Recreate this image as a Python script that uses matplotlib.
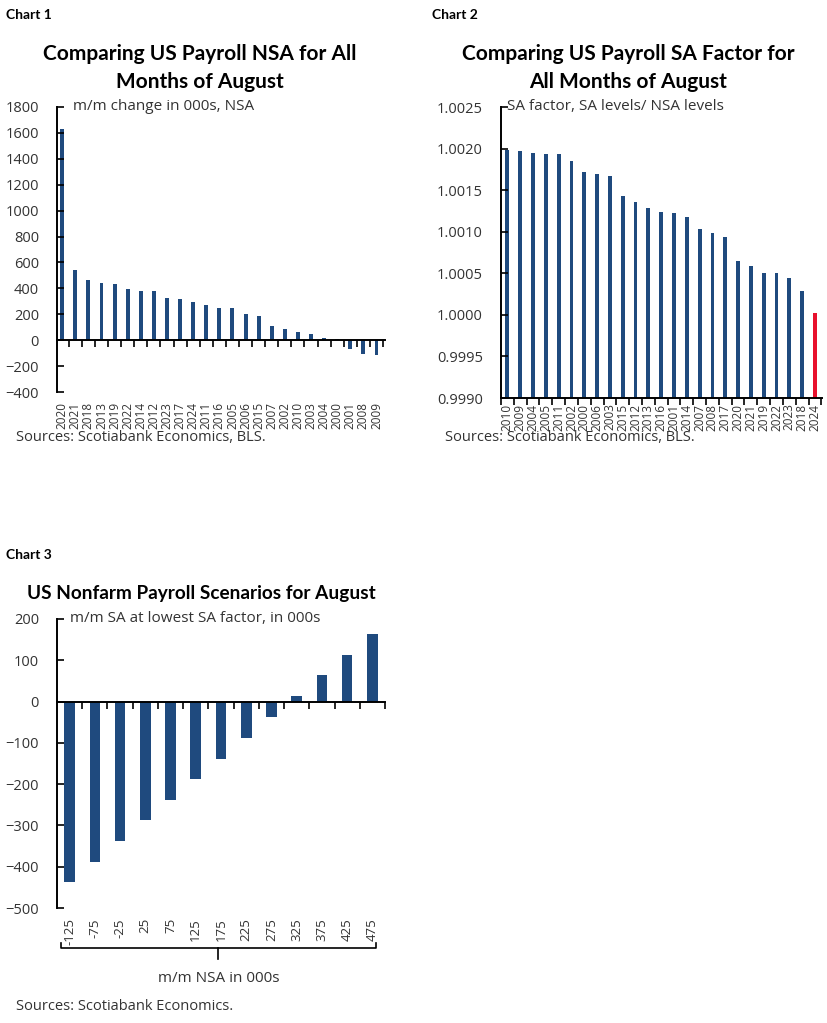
import matplotlib
matplotlib.use('Agg')
import matplotlib.pyplot as plt
import matplotlib.transforms as mtransforms
import numpy as np

plt.rcParams['font.family'] = ['Open Sans', 'DejaVu Sans']

NAVY = '#1f4a7e'
RED = '#e8112d'
TXT = '#333333'
BOLD = ['Lato', 'DejaVu Sans']

# chart 1: NSA m/m change in August, sorted
years1 = ['2020', '2021', '2018', '2013', '2019', '2022', '2014', '2012', '2023',
          '2017', '2024', '2011', '2016', '2005', '2006', '2015', '2007', '2002',
          '2010', '2003', '2004', '2000', '2001', '2008', '2009']
nsa = [1629, 538, 468, 440, 434, 393, 378, 378, 326, 315, 297, 272, 248, 246,
       204, 186, 106, 83, 62, 47, 18, 6, -67, -103, -116]

# chart 2: SA factor for August
years2 = ['2010', '2009', '2004', '2005', '2011', '2002', '2000', '2006', '2003',
          '2015', '2012', '2013', '2016', '2001', '2014', '2007', '2008', '2017',
          '2020', '2021', '2019', '2022', '2023', '2018', '2024']
sa_factor = [1.001985, 1.001965, 1.001945, 1.00193, 1.00193, 1.00185, 1.001724,
             1.00169, 1.00167, 1.001435, 1.001363, 1.001287, 1.001235, 1.00123,
             1.00118, 1.00103, 1.00098, 1.00094, 1.000646, 1.000593, 1.000509,
             1.000505, 1.000441, 1.000289, 1.000028]

# chart 3: scenarios
nsa_scen = ['-125', '-75', '-25', '25', '75', '125', '175', '225', '275', '325',
            '375', '425', '475']
sa_scen = [-438, -388, -338, -288, -238, -188, -138, -88, -37, 14, 64, 114, 164]

W, H = 828, 1023
fig = plt.figure(figsize=(W / 100, H / 100), dpi=100)


def fx(px):
    return px / W


def fy(py):
    return 1 - py / H


def style_axes(ax):
    for s in ['top', 'right']:
        ax.spines[s].set_visible(False)
    ax.spines['left'].set_linewidth(1.4)
    ax.spines['bottom'].set_linewidth(1.4)
    ax.tick_params(axis='y', direction='in', length=5, width=1.2, pad=13,
                   labelsize=10.5, labelcolor=TXT)


# ---- Chart 1
ax1 = fig.add_axes([fx(57), fy(392), fx(385 - 57), fy(107) - fy(392)])
x1 = np.arange(len(nsa))
ax1.bar(x1, nsa, width=0.3, color=NAVY)
ax1.set_ylim(-400, 1800)
ax1.set_yticks(np.arange(-400, 1801, 200))
ax1.set_xlim(-0.4, 24.65)
style_axes(ax1)
ax1.spines['bottom'].set_position(('data', 0))
ax1.set_xticks(x1 + 0.5)
ax1.set_xticklabels([])
ax1.tick_params(axis='x', direction='out', length=5, width=1.2)
tr1 = mtransforms.blended_transform_factory(ax1.transData, ax1.transAxes)
for i, lab in enumerate(years1):
    ax1.text(i, -0.035, lab, transform=tr1, rotation=90, ha='center', va='top',
             fontsize=8.5, color=TXT)
ax1.text(0.05, 1.0, 'm/m change in 000s, NSA', transform=ax1.transAxes,
         fontsize=11, color=TXT, va='center', ha='left')

# ---- Chart 2
ax2 = fig.add_axes([fx(501), fy(398), fx(822 - 501), fy(107) - fy(398)])
x2 = np.arange(len(sa_factor))
cols2 = [NAVY] * (len(sa_factor) - 1) + [RED]
base = 0.9990
ax2.bar(x2, np.array(sa_factor) - base, bottom=base, width=0.3, color=cols2)
ax2.set_ylim(0.9990, 1.0025)
ax2.set_yticks(np.arange(0.9990, 1.00251, 0.0005))
ax2.yaxis.set_major_formatter(plt.FormatStrFormatter('%.4f'))
ax2.set_xlim(-0.5, 24.55)
style_axes(ax2)
ax2.set_xticks(x2)
ax2.set_xticklabels(years2, rotation=90, fontsize=8.5, color=TXT)
ax2.tick_params(axis='x', which='major', length=0, pad=4)
ax2.set_xticks(np.arange(-0.5, 25, 1), minor=True)
ax2.tick_params(axis='x', which='minor', direction='out', length=5, width=1.2)
ax2.text(0.02, 1.0, 'SA factor, SA levels/ NSA levels', transform=ax2.transAxes,
         fontsize=11, color=TXT, va='center', ha='left')

# ---- Chart 3
ax3 = fig.add_axes([fx(57), fy(908), fx(385 - 57), fy(619) - fy(908)])
x3 = np.arange(len(sa_scen))
ax3.bar(x3, sa_scen, width=0.42, color=NAVY)
ax3.set_ylim(-500, 200)
ax3.set_yticks(np.arange(-500, 201, 100))
ax3.set_xlim(-0.5, 12.5)
style_axes(ax3)
ax3.spines['bottom'].set_position(('data', 0))
ax3.set_xticks(x3 + 0.5)
ax3.set_xticklabels([])
ax3.tick_params(axis='x', direction='out', length=5, width=1.2)
tr3 = mtransforms.blended_transform_factory(ax3.transData, ax3.transAxes)
for i, lab in enumerate(nsa_scen):
    ax3.text(i, -0.035, lab, transform=tr3, rotation=90, ha='center', va='top',
             fontsize=9.5, color=TXT)
# bracket under category labels
bl, br = -0.35, 12.15
ax3.plot([bl, bl, br, br], [-0.12, -0.137, -0.137, -0.12],
         transform=tr3, color='black', lw=1.2, clip_on=False)
ax3.plot([(bl + br) / 2] * 2, [-0.137, -0.175], transform=tr3, color='black',
         lw=1.2, clip_on=False)
ax3.text((bl + br) / 2, -0.243, 'm/m NSA in 000s', transform=tr3, ha='center',
         va='center', fontsize=11, color=TXT)
ax3.text(0.04, 1.0, 'm/m SA at lowest SA factor, in 000s', transform=ax3.transAxes,
         fontsize=11, color=TXT, va='center', ha='left')

# ---- figure texts
for px, py, lab in [(6, 15, 'Chart 1'), (432, 15, 'Chart 2'), (6, 555, 'Chart 3')]:
    fig.text(fx(px), fy(py), lab, fontsize=10, fontweight='bold', family=BOLD,
             va='center')

fig.text(fx(200), fy(68), 'Comparing US Payroll NSA for All\nMonths of August',
         ha='center', va='center', fontsize=15, fontweight='bold', family=BOLD,
         linespacing=1.5)
fig.text(fx(628), fy(68), 'Comparing US Payroll SA Factor for\nAll Months of August',
         ha='center', va='center', fontsize=15, fontweight='bold', family=BOLD,
         linespacing=1.5)
fig.text(fx(201), fy(593), 'US Nonfarm Payroll Scenarios for August',
         ha='center', va='center', fontsize=13.7, fontweight='bold', family=BOLD)

fig.text(fx(16), fy(437), 'Sources: Scotiabank Economics, BLS.', fontsize=10.5,
         color=TXT, va='center')
fig.text(fx(445), fy(437), 'Sources: Scotiabank Economics, BLS.', fontsize=10.5,
         color=TXT, va='center')
fig.text(fx(16), fy(1007), 'Sources: Scotiabank Economics.', fontsize=10.5,
         color=TXT, va='center')

fig.savefig('out.png', dpi=100)
